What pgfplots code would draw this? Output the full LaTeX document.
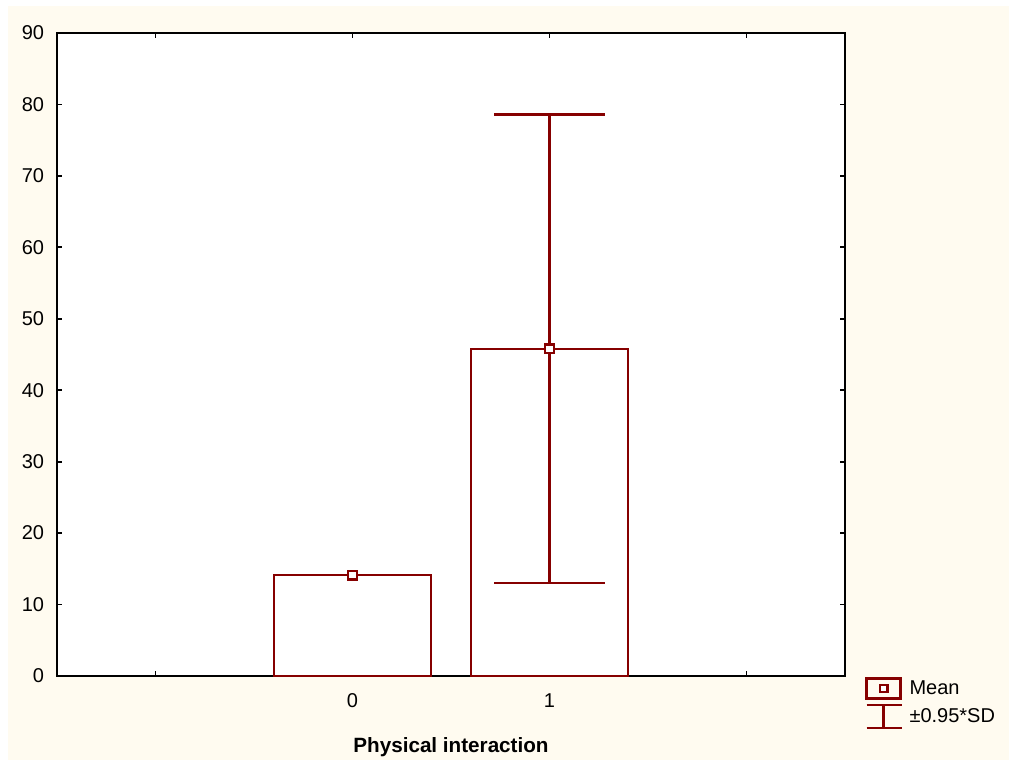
\documentclass[border=0pt]{standalone}
\usepackage{fontspec}
\setmainfont{Liberation Sans}
\usepackage{pgfplots}
\pgfplotsset{compat=1.18}

\definecolor{barred}{RGB}{134,0,0}
\definecolor{cream}{RGB}{255,251,240}

% Physical interaction: mean and SD multiplier error (upper = lower)
\pgfplotstableread{
x  mean   err
0  14.1   0.0
1  45.8   32.8
}\meansd

\begin{document}
\begin{tikzpicture}
  % page background
  \fill[white] (0,0) rectangle (756.75pt,570pt);
  \fill[cream] (6pt,0) rectangle (756.75pt,565.5pt);
  \useasboundingbox (0,0) rectangle (756.75pt,570pt);

  \begin{axis}[
    at={(42.75pt,63pt)}, anchor=south west,
    scale only axis,
    width=591pt, height=482.25pt,
    xmin=-1.5, xmax=2.5,
    ymin=0, ymax=90,
    xtick={-1,0,1,2},
    xticklabels={,0,1,},
    ytick={0,10,...,90},
    tick align=inside,
    major tick length=3.5pt,
    every tick/.style={black, line width=1.4pt},
    axis line style={black, line width=1.8pt},
    axis background/.style={fill=white},
    /pgf/number format/assume math mode=true,
    ticklabel style={font=\fontsize{15pt}{18pt}\selectfont},
    yticklabel style={inner sep=0pt, anchor=east, xshift=-9.5pt},
    xticklabel style={inner sep=0pt, anchor=north, yshift=-13pt},
    xlabel={Physical interaction},
    xlabel style={font=\fontsize{15.5pt}{18pt}\selectfont\bfseries,
                  at={(axis description cs:0.5,0)}, anchor=north,
                  inner sep=0pt, yshift=-46pt},
    legend style={at={(rel axis cs:1,0)}, anchor=north west,
                  xshift=15pt, yshift=-0.5pt,
                  draw=none, fill=none, inner sep=0pt,
                  row sep=3pt,
                  nodes={inner sep=0pt, font=\fontsize{15pt}{18pt}\selectfont}},
    legend cell align=left,
  ]
    % bars with error bars
    \addplot[forget plot, ybar, bar width=0.8, draw=barred, fill=white, line width=1.6pt,
             error bars/.cd, y dir=both, y explicit,
             error bar style={barred, line width=1.6pt},
             error mark=|,
             error mark options={barred, line width=1.6pt, mark size=41.6pt}]
      table[x=x, y=mean, y error=err] {\meansd};
    % mean markers
    \addplot[forget plot, only marks, mark=square*, mark size=3.3pt,
             mark options={draw=barred, fill=white, line width=1.8pt}]
      table[x=x, y=mean] {\meansd};

    \addlegendimage{legend image code/.code={
        \draw[barred, line width=2pt] (0pt,-7.5pt) rectangle (25.5pt,7.5pt);
        \draw[barred, line width=1.6pt, fill=white] (9.8pt,-2.6pt) rectangle (15.7pt,2.6pt);
        \path (32pt,0pt);}}
    \addlegendentry{Mean}
    \addlegendimage{legend image code/.code={
        \draw[barred, line width=2pt] (0pt,8.6pt) -- (26.25pt,8.6pt);
        \draw[barred, line width=2pt] (12.75pt,8.6pt) -- (12.75pt,-8.6pt);
        \draw[barred, line width=2pt] (0pt,-8.6pt) -- (26.25pt,-8.6pt);
        \path (32pt,0pt);}}
    \addlegendentry{±0.95*SD}
  \end{axis}
\end{tikzpicture}
\end{document}
